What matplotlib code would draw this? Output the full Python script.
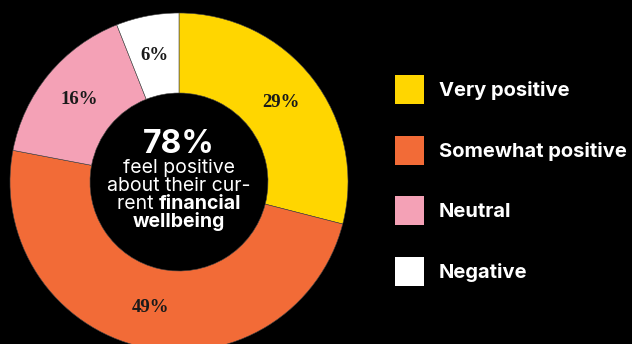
import numpy as np
import matplotlib.pyplot as plt

# survey breakdown, clockwise from 12 o'clock
labels = ["Very positive", "Somewhat positive", "Neutral", "Negative"]
shares = [29, 49, 16, 6]
colors = ["#FFD600", "#F26B37", "#F4A1B6", "#FFFFFF"]
headline = "78%"

W, H = 632, 344
fig = plt.figure(figsize=(W / 100, H / 100), dpi=100, facecolor="black")
ax = fig.add_axes([0, 0, 1, 1])
ax.set_facecolor("black")

cx, cy = 179, H - 182
R, ring = 169, 80

wedges, _ = ax.pie(shares, colors=colors, startangle=90, counterclock=False,
                   center=(cx, cy), radius=R,
                   wedgeprops=dict(width=ring, edgecolor="#444444", linewidth=0.4))

# percentage labels in the middle of the ring
frac = np.array(shares) / sum(shares)
mids = 90 - 360 * (np.cumsum(frac) - frac / 2)
rmid = R - ring / 2
for m, s in zip(mids, shares):
    a = np.deg2rad(m)
    ax.text(cx + rmid * np.cos(a), cy + rmid * np.sin(a), f"{s}%",
            ha="center", va="center", fontsize=13.5, fontweight="bold",
            family="Liberation Serif", color="#1a1a1a")

# centre text
sans = "Inter"
body = 14
ax.text(cx, H - 153, headline, ha="center", va="baseline", color="white",
        fontsize=23, fontweight="bold", family=sans)
ax.text(cx, H - 173, "feel positive", ha="center", va="baseline", color="white",
        fontsize=body, family=sans)
ax.text(cx, H - 191, "about their cur-", ha="center", va="baseline", color="white",
        fontsize=body, family=sans)
ax.text(cx, H - 227, "wellbeing", ha="center", va="baseline", color="white",
        fontsize=body, fontweight="bold", family=sans)

# mixed-weight line: measure both parts, then centre the pair
t1 = ax.text(0, H - 209, "rent ", ha="left", va="baseline", color="white",
             fontsize=body, family=sans)
t2 = ax.text(0, H - 209, "financial", ha="left", va="baseline", color="white",
             fontsize=body, fontweight="bold", family=sans)
rend = fig.canvas.get_renderer()
w1 = t1.get_window_extent(rend).width
w2 = t2.get_window_extent(rend).width
x0 = cx - (w1 + w2) / 2
t1.set_x(x0)
t2.set_x(x0 + w1)

ax.set_xlim(0, W)
ax.set_ylim(0, H)
ax.set_axis_off()

# square swatches: legend trims 0.35*fs*(h-0.7) off the handle height
fs = 14.5
leg = fig.legend(wedges, labels, loc="upper left",
                 bbox_to_anchor=(395 / W, 1 - 75 / H), frameon=False,
                 borderpad=0, borderaxespad=0, handlelength=1.44, handleheight=1.84,
                 handletextpad=0.74, labelspacing=1.57,
                 prop=dict(family=sans, weight="bold", size=fs))
for t in leg.get_texts():
    t.set_color("white")
for h in leg.legend_handles:
    h.set_edgecolor("none")

fig.savefig("out.png", dpi=100, facecolor="black")
